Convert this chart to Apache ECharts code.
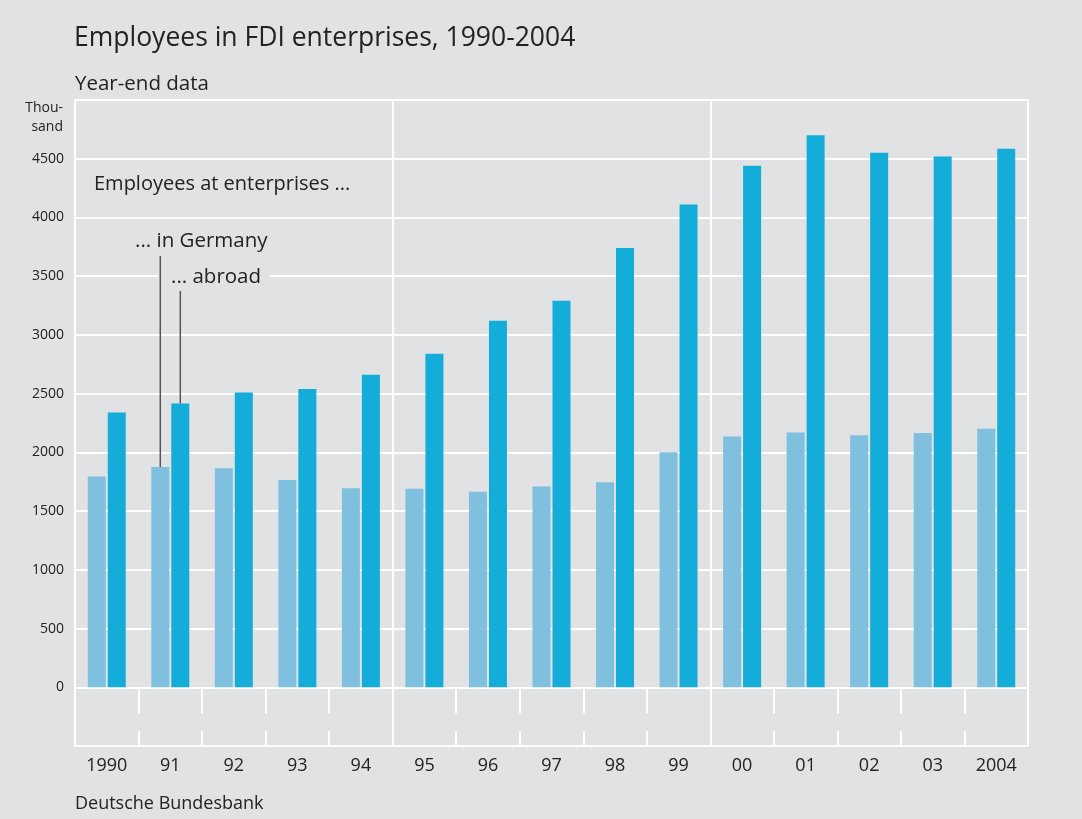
<!DOCTYPE html>
<html><head><meta charset="utf-8">
<script src="https://cdn.jsdelivr.net/npm/echarts@6/dist/echarts.min.js"></script>
<style>html,body{margin:0;padding:0;background:#e1e2e4}#c{width:1082px;height:819px}</style>
</head><body><div id="c"></div>
<script>
const categories = ['1990','91','92','93','94','95','96','97','98','99','00','01','02','03','2004'];
const inGermany = [1795,1875,1865,1765,1695,1690,1665,1710,1745,2000,2135,2170,2145,2165,2200];
const abroad = [2340,2415,2510,2540,2660,2840,3120,3290,3740,4110,4440,4700,4550,4520,4585];

const FONT = "'Open Sans', 'Noto Sans', sans-serif";
const TXT = '#222222';
const BG = '#e1e2e4';
const chart = echarts.init(document.getElementById('c'), null, {renderer:'canvas'});
const option = {
  backgroundColor: BG,
  animation: false,
  textStyle: {fontFamily: FONT},
  title: [
    {text:'Employees in FDI enterprises, 1990-2004', left:74, top:25, padding:0, textStyle:{fontFamily:FONT,fontSize:26.5,fontWeight:'normal',color:TXT}},
    {text:'Year-end data', left:75, top:74, padding:0, textStyle:{fontFamily:FONT,fontSize:20.5,fontWeight:'normal',color:TXT}},
    {text:'Deutsche Bundesbank', left:75, top:795, padding:0, textStyle:{fontFamily:FONT,fontSize:18,fontWeight:'normal',color:TXT}}
  ],
  grid: {left:75, right:54, top:100, bottom:73, show:true, borderColor:'#ffffff', borderWidth:2, backgroundColor:'transparent'},
  xAxis: [
    {type:'category', data:categories, position:'bottom',
     axisLine:{show:true, lineStyle:{color:'#ffffff', width:2}},
     axisTick:{show:true, inside:false, length:26, interval:(i)=> i>0, lineStyle:{color:'#ffffff', width:2}},
     axisLabel:{color:TXT, fontSize:18, fontFamily:FONT, margin:11},
     splitLine:{show:true, interval:(i)=> i===5 || i===10, lineStyle:{color:'#ffffff', width:2}}},
    {type:'category', data:categories, position:'bottom',
     axisLine:{show:false},
     axisTick:{show:true, inside:true, length:15, interval:(i)=> i>0, lineStyle:{color:'#ffffff', width:2}},
     axisLabel:{show:false}, splitLine:{show:false}}
  ],
  yAxis: {type:'value', min:-500, max:5000, interval:500,
    axisLine:{show:false}, axisTick:{show:false},
    splitLine:{show:true, lineStyle:{color:'#ffffff', width:2}},
    axisLabel:{color:TXT, fontSize:14, fontFamily:FONT, margin:11,
      formatter:(v)=> (v < 0 || v >= 5000) ? '' : String(v)}},
  series: [
    {name:'... in Germany', type:'bar', data:inGermany, barWidth:18, barGap:'11%',
     itemStyle:{color:'#80c0df'}},
    {name:'... abroad', type:'bar', data:abroad, barWidth:18, barGap:'11%',
     itemStyle:{color:'#14acd9'}}
  ]
};
chart.setOption(option);

// annotations
const p1 = chart.convertToPixel({xAxisIndex:0, yAxisIndex:0}, [categories[1], inGermany[1]]);
const p2 = chart.convertToPixel({xAxisIndex:0, yAxisIndex:0}, [categories[1], abroad[1]]);
const off = 10;
chart.setOption({
  graphic: [
    {type:'text', x:63, y:99, z:100, style:{text:'Thou-\nsand', align:'right', verticalAlign:'top', fill:TXT, font:'14px '+FONT, lineHeight:19}},
    {type:'text', x:94, y:184, z:100, style:{text:'Employees at enterprises ...', align:'left', verticalAlign:'middle', fill:TXT, font:'20px '+FONT}},
    {type:'text', x:135, y:241, z:100, style:{text:'... in Germany', align:'left', verticalAlign:'middle', fill:TXT, font:'20.5px '+FONT}},
    {type:'text', x:158, y:277, z:100, style:{text:'... abroad', align:'left', verticalAlign:'middle', fill:TXT, font:'20.5px '+FONT, backgroundColor:BG, padding:[2,9,2,13]}},
    {type:'line', z:110, shape:{x1:p1[0]-off, y1:256, x2:p1[0]-off, y2:p1[1]}, style:{stroke:'#555555', lineWidth:1.5}},
    {type:'line', z:110, shape:{x1:p2[0]+off, y1:291, x2:p2[0]+off, y2:p2[1]}, style:{stroke:'#555555', lineWidth:1.5}}
  ]
});
</script></body></html>
